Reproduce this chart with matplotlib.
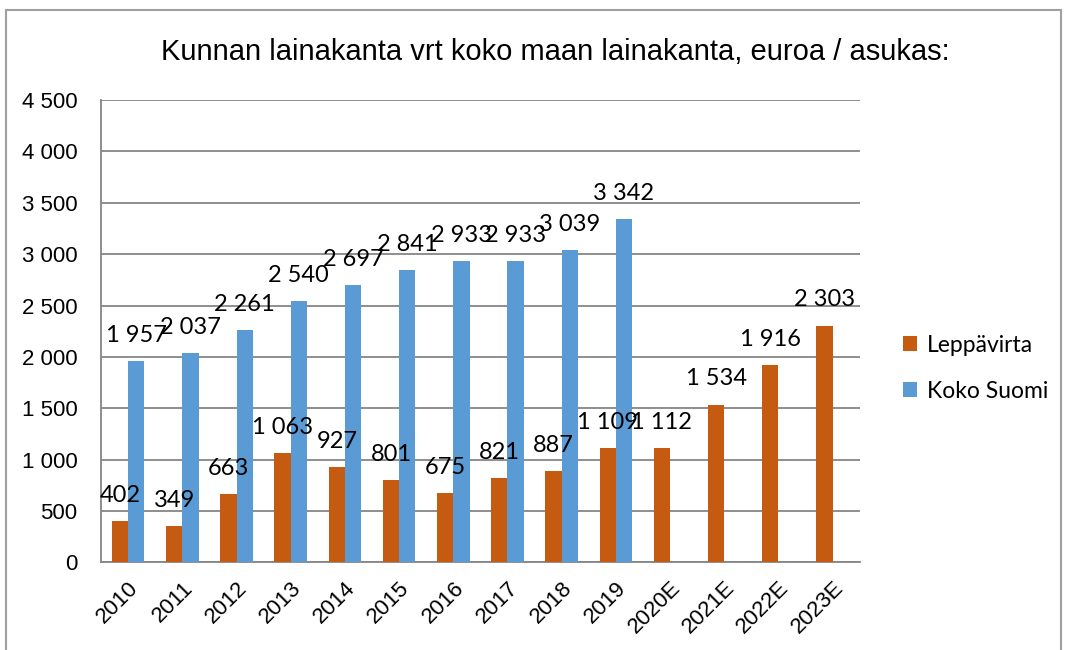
import numpy as np
import matplotlib
matplotlib.use("Agg")
import matplotlib.pyplot as plt
from matplotlib.patches import Rectangle
from matplotlib.ticker import FuncFormatter

# data
vuodet = ['2010', '2011', '2012', '2013', '2014', '2015', '2016', '2017', '2018', '2019',
          '2020E', '2021E', '2022E', '2023E']
leppavirta = [402, 349, 663, 1063, 927, 801, 675, 821, 887, 1109, 1112, 1534, 1916, 2303]
koko_suomi = [1957, 2037, 2261, 2540, 2697, 2841, 2933, 2933, 3039, 3342,
              np.nan, np.nan, np.nan, np.nan]
otsikko = 'Kunnan lainakanta vrt koko maan lainakanta, euroa / asukas:'

narrow = ['Liberation Sans', 'DejaVu Sans']
calib = ['Lato', 'DejaVu Sans']

c_orange = '#C55A11'
c_blue = '#5B9BD5'
c_grid = '#868686'


def fmt(v):
    if v != v:
        return ''
    return '{:,}'.format(int(v)).replace(',', ' ')


fig = plt.figure(figsize=(10.67, 6.5), dpi=100)
ax = fig.add_axes([0.0947, 0.135, 0.711, 0.711])

x = np.arange(len(vuodet))
w = 0.3
b1 = ax.bar(x - w / 2, leppavirta, w, color=c_orange, label='Leppävirta', zorder=3)
b2 = ax.bar(x + w / 2, koko_suomi, w, color=c_blue, label='Koko Suomi', zorder=3)

# päällekkäiset arvot jätetään kuten alkuperäisessä
ax.bar_label(b1, labels=[fmt(v) for v in leppavirta], padding=11,
             fontsize=17, family=calib, zorder=4)
ax.bar_label(b2, labels=[fmt(v) for v in koko_suomi], padding=11,
             fontsize=17, family=calib, zorder=4)

ax.set_ylim(0, 4500)
ax.set_yticks(np.arange(0, 4501, 500))
ax.yaxis.set_major_formatter(FuncFormatter(lambda v, p: fmt(v)))
ax.set_xlim(-0.5, len(vuodet) - 0.5)
ax.set_xticks(x)
ax.set_xticklabels(vuodet, rotation=45, ha='right', rotation_mode='anchor')

for lab in ax.get_yticklabels() + ax.get_xticklabels():
    lab.set_family(narrow)
    lab.set_fontsize(16)

ax.tick_params(axis='y', length=0, pad=17)
ax.tick_params(axis='x', length=0, pad=11)
ax.grid(axis='y', color=c_grid, linewidth=1.3, zorder=0)
for s in ['top', 'right']:
    ax.spines[s].set_visible(False)
ax.spines['left'].set_color(c_grid)
ax.spines['bottom'].set_color(c_grid)
ax.spines['left'].set_linewidth(1.3)
ax.spines['bottom'].set_linewidth(1.3)

fig.text(0.52, 0.92, otsikko, ha='center', va='center', fontsize=21, family=narrow)

leg = ax.legend(loc='center left', bbox_to_anchor=(1.03, 0.42), frameon=False,
                prop={'family': calib, 'size': 16.5}, handlelength=0.6, handleheight=0.6,
                labelspacing=1.1, handletextpad=0.45)

fig.patches.append(Rectangle((0.006, -0.1), 0.988, 1.085, transform=fig.transFigure,
                             fill=False, edgecolor='#A0A0A0', linewidth=1.5))

fig.savefig('out.png', dpi=100)
